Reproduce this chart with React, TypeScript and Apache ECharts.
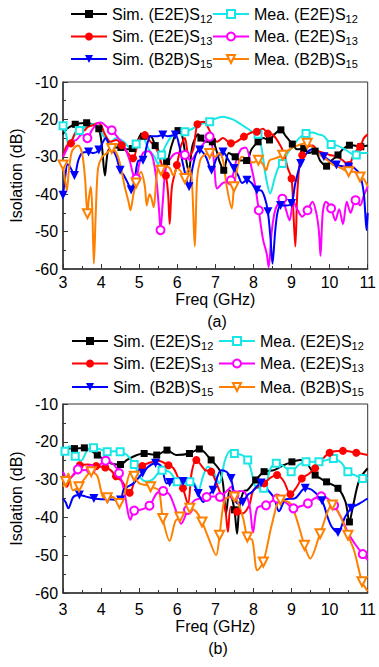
import React, { useEffect, useRef } from "react";
import * as echarts from "echarts";

// [freq GHz, isolation dB, marker flag]
const A_SIM_S12 = [[3.0,-24,0],[3.1,-22.5,0],[3.32,-21.3,1],[3.5,-21,0],[3.62,-20.9,1],[3.8,-21.5,0],[3.94,-22.5,1],[4.02,-27,0],[4.1,-35,0],[4.18,-28.5,0],[4.3,-27.5,0],[4.52,-27.5,1],[4.65,-28,0],[4.82,-27.8,1],[4.95,-26,0],[5.05,-24,0],[5.12,-24.5,1],[5.3,-24.5,0],[5.42,-27,1],[5.55,-29,0],[5.72,-31.3,1],[5.85,-27,0],[6.02,-23,1],[6.12,-24,0],[6.22,-30,0],[6.3,-34,0],[6.4,-27,0],[6.55,-24,0],[6.62,-25,1],[6.75,-26,0],[6.92,-26,1],[7.05,-29,0],[7.1,-31,0],[7.22,-33.6,1],[7.35,-29,0],[7.52,-30,1],[7.65,-31,0],[7.82,-31,1],[7.95,-28,0],[8.12,-26,1],[8.25,-25,0],[8.42,-25.5,1],[8.55,-24,0],[8.72,-22.8,1],[8.85,-24.5,0],[9.02,-26.6,1],[9.15,-28,0],[9.32,-27.8,1],[9.45,-29,0],[9.62,-28.5,1],[9.75,-31,0],[9.92,-32.5,1],[10.05,-31,0],[10.22,-29.5,1],[10.35,-28,0],[10.52,-26.9,1],[10.65,-27,0],[10.82,-27.3,1],[11,-27,0]];
const A_MEA_S12 = [[3.0,-21.7,1],[3.08,-24,0],[3.15,-27,0],[3.25,-25,0],[3.43,-23,1],[3.6,-22,0],[3.8,-21.2,0],[3.95,-22.5,0],[4.1,-25,0],[4.25,-26,0],[4.4,-25,0],[4.6,-26,0],[4.75,-27.5,0],[4.92,-26.6,1],[5.1,-25,0],[5.25,-28,0],[5.4,-30,0],[5.5,-32,0],[5.59,-29.5,1],[5.75,-26,0],[5.9,-24,0],[6.05,-23.5,0],[6.2,-23.3,1],[6.4,-22.5,0],[6.55,-21.5,0],[6.7,-21,0],[6.85,-20.6,1],[7.0,-19.8,0],[7.2,-19.3,0],[7.4,-19.8,0],[7.55,-20.5,0],[7.7,-21.5,0],[7.85,-22.5,0],[8.0,-23.5,0],[8.12,-24,1],[8.22,-28,0],[8.32,-35,0],[8.44,-39.8,0],[8.55,-36,0],[8.65,-33,0],[8.76,-31.8,1],[8.9,-29,0],[9.05,-27,0],[9.2,-25,0],[9.38,-23.8,1],[9.55,-23.5,0],[9.7,-24,0],[9.85,-24.5,0],[10.04,-26.7,1],[10.2,-27,0],[10.4,-28,0],[10.55,-29,0],[10.7,-29.5,1],[10.85,-29,0],[11,-29,0]];
const A_SIM_S13 = [[3.0,-30,0],[3.1,-27,0],[3.21,-26.4,1],[3.3,-24,0],[3.45,-22,0],[3.55,-23,0],[3.65,-22,0],[3.8,-21.5,0],[3.9,-21,0],[4.0,-21.5,0],[4.1,-24,0],[4.25,-26,0],[4.4,-25.5,0],[4.54,-26.9,1],[4.7,-29,0],[4.84,-30.4,1],[4.95,-27,0],[5.05,-24.5,0],[5.15,-24.2,1],[5.3,-26,0],[5.4,-27,0],[5.5,-29,0],[5.62,-33,0],[5.7,-35,1],[5.76,-40,0],[5.8,-48,0],[5.86,-38,0],[5.99,-32.2,1],[6.1,-27,0],[6.2,-25,0],[6.3,-30,0],[6.42,-28,0],[6.53,-21.3,1],[6.7,-20.6,0],[6.8,-22,0],[6.9,-24,0],[7.05,-26,0],[7.2,-25,0],[7.41,-26.4,1],[7.55,-26,0],[7.75,-24.6,1],[7.95,-23.5,0],[8.09,-23.3,1],[8.25,-22.5,0],[8.38,-23.8,1],[8.5,-24,0],[8.65,-26,0],[8.8,-29,0],[8.9,-33,0],[9.0,-35.8,1],[9.05,-45,0],[9.1,-54,0],[9.15,-40,0],[9.22,-31,0],[9.28,-29.6,1],[9.4,-27.5,0],[9.55,-27,0],[9.7,-28.5,0],[9.85,-29,0],[10.0,-29.5,0],[10.2,-30,0],[10.35,-31,0],[10.5,-32.2,1],[10.65,-29,0],[10.8,-27.3,1],[10.9,-25,0],[11,-24,0]];
const A_MEA_S13 = [[3.0,-30,0],[3.1,-28,0],[3.2,-26,0],[3.35,-25.5,0],[3.5,-24,0],[3.64,-25,1],[3.75,-23,0],[3.9,-21,0],[4.0,-20.8,0],[4.15,-22,0],[4.28,-22.9,1],[4.45,-25,0],[4.6,-27,0],[4.75,-31,0],[4.85,-35,0],[4.92,-35.8,1],[5.0,-32,0],[5.1,-29,0],[5.25,-28.5,0],[5.35,-30,0],[5.45,-36,0],[5.52,-44,0],[5.56,-49.6,1],[5.62,-42,0],[5.7,-33,0],[5.85,-30,0],[6.0,-29,0],[6.2,-29.5,1],[6.35,-31,0],[6.5,-29,0],[6.65,-27,0],[6.85,-24.6,1],[6.95,-30,0],[7.05,-38.5,0],[7.2,-37,0],[7.41,-36.3,1],[7.55,-31,0],[7.67,-28,0],[7.8,-27.5,0],[7.95,-33,0],[8.05,-38,0],[8.14,-44.3,1],[8.25,-52,0],[8.35,-56,0],[8.4,-59.5,0],[8.48,-50,0],[8.58,-44,0],[8.76,-41.2,1],[8.85,-44,0],[8.95,-47,0],[9.05,-42,0],[9.15,-44,0],[9.28,-46,0],[9.42,-44.3,1],[9.55,-42,0],[9.65,-45,0],[9.72,-50,0],[9.76,-56.5,0],[9.82,-45,0],[9.9,-42,0],[10.04,-43.8,1],[10.15,-47,0],[10.25,-44,0],[10.35,-48,0],[10.45,-42,0],[10.55,-45,0],[10.68,-41.6,1],[10.8,-43,0],[10.9,-40.3,0],[11,-38,0]];
const A_SIM_S15 = [[3.0,-40.3,1],[3.05,-36,0],[3.12,-32,0],[3.2,-33,0],[3.3,-35,1],[3.4,-31,0],[3.5,-29,0],[3.67,-28.7,1],[3.8,-29,0],[3.94,-28.2,1],[4.05,-26,0],[4.12,-25,0],[4.2,-26.5,0],[4.3,-28,0],[4.4,-30,0],[4.5,-33.6,1],[4.6,-35,0],[4.7,-37,0],[4.79,-38.9,1],[4.88,-36,0],[4.98,-31,0],[5.1,-30.9,1],[5.2,-27,0],[5.3,-24.5,0],[5.45,-24.5,0],[5.62,-24.2,1],[5.75,-24.5,0],[5.95,-24.2,1],[6.05,-27,0],[6.15,-32,0],[6.31,-38,1],[6.4,-33,0],[6.5,-29,0],[6.59,-28.2,1],[6.75,-30,0],[6.9,-33.6,1],[7.05,-30,0],[7.2,-28.7,1],[7.35,-31,0],[7.49,-33.1,1],[7.6,-35,0],[7.7,-37,0],[7.83,-36.3,1],[7.95,-37,0],[8.09,-38.9,1],[8.2,-39,0],[8.3,-41,0],[8.38,-44.7,1],[8.45,-52,0],[8.5,-58.6,0],[8.57,-50,0],[8.63,-45,0],[8.71,-43,1],[8.85,-43,0],[9.0,-42.5,1],[9.1,-37,0],[9.24,-31.8,1],[9.4,-29,0],[9.55,-28,0],[9.7,-29,0],[9.85,-30,1],[10.0,-31,0],[10.18,-32.2,1],[10.35,-32.5,0],[10.5,-32.7,1],[10.65,-33,0],[10.8,-35,0],[10.9,-40,0],[10.97,-49.6,0],[11,-45,0]];
const A_MEA_S15 = [[3.0,-32.2,1],[3.05,-36,0],[3.1,-39,0],[3.15,-34,0],[3.22,-29,0],[3.3,-27.5,0],[3.4,-27,0],[3.5,-29,0],[3.58,-36,0],[3.64,-45.2,1],[3.68,-41,0],[3.73,-38,0],[3.77,-45,0],[3.81,-58.6,0],[3.86,-45,0],[3.92,-33,0],[4.03,-30,0],[4.15,-29,0],[4.28,-27.8,1],[4.4,-29,0],[4.5,-32,0],[4.62,-38,0],[4.72,-42,0],[4.77,-44.3,0],[4.85,-40,0],[4.92,-37,1],[5.05,-34,0],[5.15,-38,0],[5.2,-43,0],[5.27,-40,0],[5.32,-41,0],[5.38,-43.5,0],[5.45,-36,0],[5.5,-32.7,0],[5.57,-33.6,1],[5.68,-32.5,0],[5.8,-33,0],[5.9,-35,0],[6.0,-33,0],[6.1,-34,0],[6.2,-35.8,1],[6.3,-33,0],[6.38,-36,0],[6.46,-54,0],[6.52,-36,0],[6.6,-31,0],[6.7,-29.5,0],[6.85,-29.1,1],[7.0,-30,0],[7.1,-29,0],[7.2,-31,0],[7.3,-38,0],[7.43,-43.8,0],[7.49,-38,1],[7.6,-32,0],[7.7,-30,0],[7.85,-31,0],[8.0,-31.5,0],[8.13,-30.9,1],[8.25,-32,0],[8.33,-33.6,0],[8.42,-31,0],[8.55,-30.5,0],[8.77,-29.6,1],[8.95,-28,0],[9.15,-27,0],[9.41,-26.4,1],[9.6,-28,0],[9.75,-29.5,0],[9.95,-31,0],[10.1,-32.2,0],[10.3,-33,0],[10.5,-34,1],[10.65,-34,0],[10.8,-35.4,1],[10.9,-36,0],[11,-38,0]];

const B_SIM_S12 = [[3.0,-21.7,0],[3.3,-21.8,1],[3.56,-21.6,1],[3.9,-23.5,1],[4.25,-25.7,0],[4.51,-26,1],[4.68,-24.8,0],[4.94,-23.5,0],[5.13,-23.1,1],[5.46,-23.5,1],[5.73,-22.2,1],[5.97,-23.5,0],[6.32,-23.1,1],[6.58,-21.9,1],[6.89,-24.8,1],[7.11,-27.5,0],[7.2,-31,0],[7.28,-39,0],[7.37,-32.8,0],[7.5,-38,1],[7.57,-44.3,0],[7.63,-37.2,0],[7.75,-33,0],[7.84,-32.8,0],[8.06,-30.1,1],[8.28,-27.9,1],[8.54,-27.5,0],[8.79,-26.2,0],[9.01,-25.3,1],[9.23,-24.8,0],[9.4,-25.7,0],[9.62,-28.8,1],[9.92,-30.6,1],[10.22,-32.3,1],[10.42,-36,0],[10.52,-41.2,1],[10.61,-37.2,0],[10.78,-30.1,0],[11,-27,0]];
const B_MEA_S12 = [[3.0,-23.4,0],[3.05,-22.5,1],[3.17,-21.2,0],[3.32,-23.8,1],[3.47,-25,0],[3.65,-22,0],[3.8,-21.6,1],[3.98,-22,0],[4.16,-22.6,1],[4.35,-22.5,0],[4.5,-22.6,1],[4.68,-23.5,0],[4.87,-26,1],[5.03,-29.5,0],[5.2,-30.5,0],[5.35,-30,0],[5.6,-27.5,1],[5.8,-28,0],[6.0,-30.6,1],[6.15,-31,0],[6.33,-30.6,1],[6.45,-31,0],[6.55,-33,0],[6.68,-29,0],[6.8,-26.6,0],[6.95,-28,0],[7.1,-31,0],[7.25,-25,0],[7.38,-22.5,0],[7.5,-23.1,1],[7.7,-23.5,0],[7.85,-24.8,1],[7.95,-28,0],[8.06,-31.9,0],[8.27,-32.3,1],[8.45,-27,0],[8.6,-25.7,1],[8.8,-26.5,0],[8.99,-27.9,1],[9.2,-26,0],[9.38,-25.3,1],[9.72,-25.3,1],[10.1,-24.4,1],[10.3,-25.5,0],[10.48,-27.9,1],[10.7,-29,0],[10.87,-29.7,1],[11,-29.7,0]];
const B_SIM_S13 = [[3.0,-30.1,0],[3.1,-31.9,0],[3.2,-29.5,0],[3.31,-28.4,0],[3.44,-26.2,1],[3.65,-26,0],[3.87,-26.4,1],[4.11,-26.8,1],[4.25,-27.5,0],[4.39,-29.1,1],[4.55,-30.5,0],[4.75,-33.5,1],[4.91,-29.3,0],[5.08,-26.4,1],[5.34,-25.3,0],[5.5,-25,0],[5.77,-26.2,1],[5.9,-27,0],[6.0,-29,0],[6.15,-32.3,1],[6.28,-36.5,0],[6.38,-28,0],[6.5,-24.8,1],[6.73,-27.5,0],[6.89,-27.9,1],[7.1,-32.8,0],[7.25,-37,0],[7.33,-43.8,0],[7.41,-37.2,0],[7.57,-38.5,1],[7.7,-39,0],[7.89,-36.8,0],[8.0,-32.8,0],[8.28,-31,1],[8.45,-29.5,0],[8.62,-28.8,1],[8.8,-30.5,0],[8.97,-33.9,1],[9.14,-31.9,0],[9.27,-29.7,1],[9.45,-28.5,0],[9.62,-27,1],[9.75,-25.3,0],[10.0,-22.9,1],[10.35,-22.4,1],[10.7,-22.9,1],[11,-23.5,0]];
const B_MEA_S13 = [[3.0,-27.9,0],[3.13,-30.1,0],[3.25,-29,0],[3.39,-27.3,1],[3.55,-27.5,0],[3.73,-27.3,1],[3.92,-26.5,0],[4.12,-25,1],[4.34,-26.1,0],[4.47,-28.3,1],[4.6,-32.7,0],[4.77,-40.6,0],[4.87,-38.2,1],[5.03,-38,0],[5.27,-36.9,1],[5.46,-33.6,0],[5.63,-33,1],[5.8,-34,0],[6.02,-39.8,0],[6.1,-41.7,0],[6.28,-38,1],[6.45,-35.5,0],[6.6,-35,0],[6.77,-34.6,1],[6.95,-34.5,0],[7.12,-34.6,1],[7.3,-33,0],[7.42,-31.9,0],[7.5,-34.1,1],[7.62,-33,0],[7.76,-33.2,0],[7.9,-37,0],[7.99,-44,0],[8.1,-37.5,0],[8.33,-36.8,1],[8.62,-35,1],[8.88,-36.3,0],[9.05,-37.6,1],[9.25,-37,0],[9.43,-36.3,1],[9.6,-35,0],[9.78,-34.4,1],[9.95,-35,0],[10.12,-36.8,1],[10.3,-40,0],[10.5,-44.3,0],[10.7,-47.5,0],[10.87,-49.7,1],[11,-51.3,0]];
const B_SIM_S15 = [[3.0,-35,0],[3.07,-36,0],[3.14,-37.6,0],[3.27,-34.6,0],[3.43,-34.1,1],[3.6,-34.5,0],[3.81,-35,1],[4.0,-35.2,0],[4.17,-35.2,1],[4.35,-35.3,0],[4.51,-35.4,1],[4.6,-32.5,0],[4.85,-31,0],[5.09,-28.3,1],[5.25,-26.5,0],[5.43,-25.7,1],[5.58,-26.5,0],[5.72,-31,0],[5.8,-30.8,1],[6.0,-30.5,0],[6.15,-30.5,1],[6.29,-30.1,0],[6.42,-31,0],[6.55,-33.7,1],[6.68,-35.9,0],[6.82,-34,0],[6.94,-32.8,1],[7.15,-27.5,0],[7.3,-28,0],[7.41,-29.7,1],[7.58,-36.3,0],[7.72,-36,1],[7.85,-34,0],[7.97,-33.2,0],[8.2,-30.9,1],[8.41,-33.1,0],[8.55,-35,0],[8.67,-38.4,0],[8.84,-35.3,0],[9.1,-34.9,0],[9.36,-32.3,1],[9.53,-32.7,0],[9.8,-35.6,1],[9.95,-40,0],[10.05,-42.4,0],[10.22,-44,1],[10.4,-40,0],[10.57,-37.6,1],[10.79,-36.3,0],[11,-35,0]];
const B_MEA_S15 = [[3.0,-31.9,0],[3.07,-30.5,1],[3.14,-28.4,0],[3.26,-32.8,0],[3.42,-31.9,1],[3.57,-29.7,0],[3.74,-27.9,1],[3.9,-29,0],[4.05,-34.6,0],[4.16,-34.8,1],[4.31,-34.6,0],[4.48,-36.3,1],[4.6,-34,0],[4.78,-27.9,0],[4.87,-29.1,1],[5.0,-31,0],[5.21,-31.5,0],[5.3,-31.9,1],[5.51,-32.8,0],[5.62,-40.3,1],[5.8,-46.2,0],[5.95,-41,0],[6.07,-39.9,1],[6.33,-37.6,1],[6.5,-38.5,0],[6.65,-41.2,1],[6.81,-45.2,0],[7.02,-50,0],[7.11,-44.7,1],[7.24,-35.4,0],[7.41,-34.6,0],[7.5,-34.6,1],[7.72,-39.9,0],[7.84,-45.2,1],[7.97,-46,0],[8.1,-54,0],[8.26,-51.8,1],[8.49,-41.6,0],[8.71,-35.4,1],[8.97,-36.3,0],[9.15,-41,0],[9.34,-47.4,1],[9.49,-50.9,0],[9.75,-44.3,1],[10.07,-36.7,1],[10.25,-39,0],[10.48,-44.7,1],[10.65,-49,0],[10.85,-57,1],[11,-59.5,0]];

const SERIES_NAMES = ["Sim. (E2E)S12", "Mea. (E2E)S12", "Sim. (E2E)S13", "Mea. (E2E)S13", "Sim. (B2B)S15", "Mea. (B2B)S15"];
const FREQ_MIN = 3, FREQ_MAX = 11, FREQ_STEP = 1;
const ISO_MIN = -60, ISO_MAX = -10, ISO_STEP = 10;

const STYLES = [
  { color: "#000000", symbol: "rect", size: 7, rotate: 0 },
  { color: "#19e6e6", symbol: "emptyRect", size: 7, rotate: 0 },
  { color: "#ff0000", symbol: "circle", size: 8, rotate: 0 },
  { color: "#ff00ff", symbol: "emptyCircle", size: 8, rotate: 0 },
  { color: "#0000ff", symbol: "triangle", size: 9, rotate: 180 },
  { color: "#ff8000", symbol: "emptyTriangle", size: 9, rotate: 180 },
];

const FONT = "'Liberation Sans', Arial, sans-serif";

export default function App() {
  const ref = useRef<HTMLDivElement>(null);
  useEffect(() => {
    if (!ref.current) return;
    const chart = echarts.init(ref.current, null, { renderer: "svg" });
    const dataA = [A_SIM_S12, A_MEA_S12, A_SIM_S13, A_MEA_S13, A_SIM_S15, A_MEA_S15];
    const dataB = [B_SIM_S12, B_MEA_S12, B_SIM_S13, B_MEA_S13, B_SIM_S15, B_MEA_S15];

    const grids = [
      { left: 60, top: 82, width: 312, height: 187 },
      { left: 63, top: 404, width: 309, height: 189 },
    ];
    const lblMargin = [5, 8];
    const xNameGap = [22, 25];
    const yNameGap = [35, 38];

    const axisLineStyle = { color: "#333", width: 1.5 };
    const xAxis = grids.map((_, i) => ({
      type: "value", gridIndex: i, min: FREQ_MIN, max: FREQ_MAX, interval: FREQ_STEP,
      axisLine: { show: true, lineStyle: axisLineStyle },
      axisTick: { show: true, inside: true, length: 5, lineStyle: { color: "#333" } },
      minorTick: { show: true, splitNumber: 2, length: 3, lineStyle: { color: "#333" } },
      splitLine: { show: false },
      axisLabel: { fontSize: 16, color: "#000", fontFamily: FONT, margin: lblMargin[i] },
      name: "Freq (GHz)", nameLocation: "middle", nameGap: xNameGap[i],
      nameTextStyle: { fontSize: 16, color: "#000", fontFamily: FONT },
    }));
    const yAxis = grids.map((_, i) => ({
      type: "value", gridIndex: i, min: ISO_MIN, max: ISO_MAX, interval: ISO_STEP,
      axisLine: { show: true, lineStyle: axisLineStyle },
      axisTick: { show: true, inside: true, length: 5, lineStyle: { color: "#333" } },
      minorTick: { show: true, splitNumber: 2, length: 3, lineStyle: { color: "#333" } },
      splitLine: { show: false },
      axisLabel: { fontSize: 16, color: "#000", fontFamily: FONT, margin: 5 },
      name: "Isolation (dB)", nameLocation: "middle", nameGap: yNameGap[i],
      nameTextStyle: { fontSize: 16, color: "#000", fontFamily: FONT },
    }));

    const series: any[] = [];
    [dataA, dataB].forEach((set, gi) => {
      set.forEach((d, k) => {
        const st = STYLES[k];
        series.push({
          type: "line", name: SERIES_NAMES[k], xAxisIndex: gi, yAxisIndex: gi,
          data: d, smooth: 0.3, showAllSymbol: true,
          symbol: st.symbol, symbolRotate: st.rotate,
          symbolSize: (v: number[]) => (v[2] ? st.size : 0),
          lineStyle: { color: st.color, width: 2 },
          itemStyle: { color: st.color, borderWidth: 1.2 },
          emphasis: { disabled: true },
        });
      });
    });

    const rows = [[14, 36.5, 59], [341, 363.5, 387]];
    const cols = [[70, 212], [71, 218]];
    const legends: any[] = [];
    rows.forEach((r, gi) => {
      SERIES_NAMES.forEach((n, k) => {
        const row = Math.floor(k / 2), col = k % 2;
        legends.push({
          data: [n], left: cols[gi][col], top: r[row] - 10, padding: 0,
          itemWidth: 36, itemHeight: 10, itemGap: 0, selectedMode: false,
          formatter: (name: string) => name.replace(/S(\d+)$/, "S{sub|$1}"),
          textStyle: {
            fontSize: 16, color: "#000", fontFamily: FONT, lineHeight: 20,
            rich: { sub: { fontSize: 11, fontFamily: FONT, color: "#000", lineHeight: 11, verticalAlign: "bottom" } },
          },
        });
      });
    });

    chart.setOption({
      animation: false,
      backgroundColor: "#fff",
      grid: grids.map((g) => ({ ...g, show: true, borderColor: "#333", borderWidth: 1, backgroundColor: "transparent" })),
      xAxis, yAxis, series, legend: legends,
      graphic: [
        { type: "text", x: 217, y: 321, style: { text: "(a)", fontSize: 16, fontFamily: FONT, fill: "#000", textAlign: "center", textVerticalAlign: "middle" } },
        { type: "text", x: 218, y: 648, style: { text: "(b)", fontSize: 16, fontFamily: FONT, fill: "#000", textAlign: "center", textVerticalAlign: "middle" } },
      ],
    });
    return () => chart.dispose();
  }, []);
  return <div ref={ref} style={{ position: "absolute", left: 0, top: 0, width: 379, height: 667 }} />;
}
